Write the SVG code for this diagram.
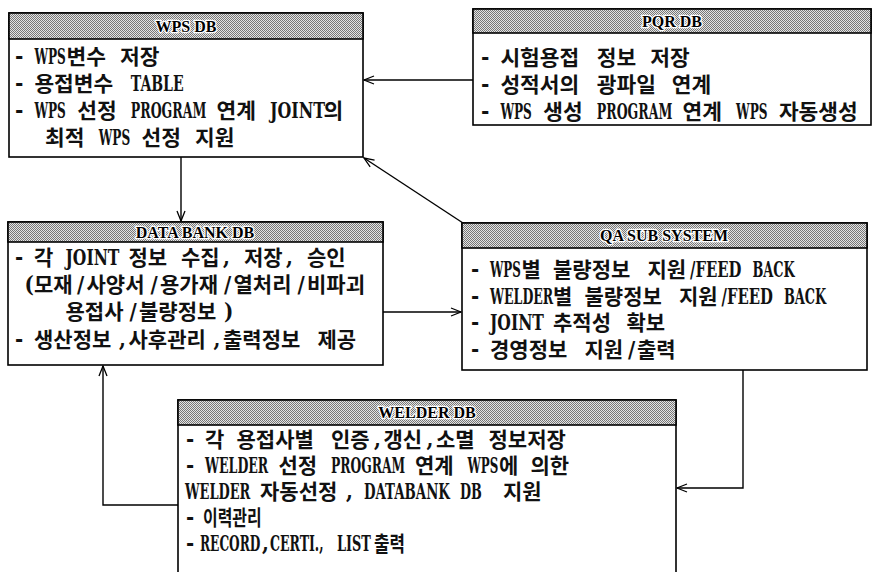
<svg xmlns="http://www.w3.org/2000/svg" width="877" height="572" viewBox="0 0 877 572">
<defs>
<pattern id="dither" width="2" height="2" patternUnits="userSpaceOnUse">
<rect width="2" height="2" fill="#e4e4e4"/>
<rect x="0" y="0" width="1" height="1" fill="#777"/>
<rect x="1" y="1" width="1" height="1" fill="#777"/>
</pattern>
<marker id="arr" markerWidth="12" markerHeight="10" refX="11" refY="5" orient="auto" markerUnits="userSpaceOnUse">
<path d="M1,1 L11,5 L1,9" fill="none" stroke="#000" stroke-width="1.3"/>
</marker>
</defs>
<style>
.box{fill:#fff;stroke:#000;stroke-width:1.6}
.hdr{fill:url(#dither);stroke:#000;stroke-width:1.6}
.ttl{font-family:"Liberation Serif",serif;font-size:16px;font-weight:bold;fill:#000;stroke:#fff;stroke-width:2.5px;paint-order:stroke;text-anchor:middle}
.k{font-family:"Liberation Serif","Noto Sans CJK KR",sans-serif;font-size:21px;font-weight:bold;fill:#111}
.l{font-family:"DejaVu Serif Condensed","Liberation Serif",serif;font-size:22px;font-weight:bold;fill:#111}
.c{fill:none;stroke:#000;stroke-width:1.4}
</style>

<g id="connectors">
<line class="c" x1="473" y1="80" x2="364" y2="80" marker-end="url(#arr)"/>
<line class="c" x1="181" y1="157" x2="181" y2="221" marker-end="url(#arr)"/>
<line class="c" x1="383" y1="312" x2="461" y2="312" marker-end="url(#arr)"/>
<line class="c" x1="463" y1="223" x2="364" y2="158" marker-end="url(#arr)"/>
<polyline class="c" points="743,370 743,488 677,488" marker-end="url(#arr)"/>
<polyline class="c" points="178,505 103,505 103,366" marker-end="url(#arr)"/>
</g>

<g id="wps-db">
<rect class="box" x="9" y="13" width="354" height="144"/>
<rect class="hdr" x="9" y="13" width="354" height="26"/>
<text class="ttl" x="186" y="31.5">WPS DB</text>
<g transform="matrix(1.02,0,0,1,-0.26,0)">
<text class="l" x="15" y="64">-</text>
<text class="l" transform="translate(34,64) scale(0.6,1)">WPS</text>
<text class="k" x="65.5" y="64">변수</text>
<text class="k" x="118" y="64">저장</text>
<text class="l" x="15" y="91">-</text>
<text class="k" x="34" y="91">용접변수</text>
<text class="l" transform="translate(128.5,91) scale(0.695,1)">TABLE</text>
<text class="l" x="15" y="118">-</text>
<text class="l" transform="translate(34,118) scale(0.6,1)">WPS</text>
<text class="k" x="76" y="118">선정</text>
<text class="l" transform="translate(128.5,118) scale(0.622,1)">PROGRAM</text>
<text class="k" x="212.5" y="118">연계</text>
<text class="l" transform="translate(265,118) scale(0.786,1)">JOINT</text>
<text class="k" x="317.5" y="118">의</text>
<text class="k" x="44.5" y="145">최적</text>
<text class="l" transform="translate(97,145) scale(0.6,1)">WPS</text>
<text class="k" x="139" y="145">선정</text>
<text class="k" x="191.5" y="145">지원</text>
</g>
</g>

<g id="pqr-db">
<rect class="box" x="473" y="9" width="398" height="116"/>
<rect class="hdr" x="473" y="9" width="398" height="24"/>
<text class="ttl" x="672" y="27">PQR DB</text>
<g transform="matrix(1.02,0,0,1,-9.58,0)">
<text class="l" x="481" y="65">-</text>
<text class="k" x="500" y="65">시험용접</text>
<text class="k" x="594.5" y="65">정보</text>
<text class="k" x="647" y="65">저장</text>
<text class="l" x="481" y="92">-</text>
<text class="k" x="500" y="92">성적서의</text>
<text class="k" x="594.5" y="92">광파일</text>
<text class="k" x="668" y="92">연계</text>
<text class="l" x="481" y="119">-</text>
<text class="l" transform="translate(500,119) scale(0.6,1)">WPS</text>
<text class="k" x="542" y="119">생성</text>
<text class="l" transform="translate(594.5,119) scale(0.622,1)">PROGRAM</text>
<text class="k" x="678.5" y="119">연계</text>
<text class="l" transform="translate(731,119) scale(0.6,1)">WPS</text>
<text class="k" x="773" y="119">자동생성</text>
</g>
</g>

<g id="data-bank-db">
<rect class="box" x="8" y="222" width="375" height="143"/>
<rect class="hdr" x="8" y="222" width="375" height="20"/>
<text class="ttl" x="195" y="238">DATA BANK DB</text>
<text class="l" x="15" y="265">-</text>
<text class="k" x="34" y="265">각</text>
<text class="l" transform="translate(65.5,265) scale(0.786,1)">JOINT</text>
<text class="k" x="128.5" y="265">정보</text>
<text class="k" x="181" y="265">수집</text>
<text class="l" x="223" y="265">,</text>
<text class="k" x="244" y="265">저장</text>
<text class="l" x="286" y="265">,</text>
<text class="k" x="307" y="265">승인</text>
<text class="l" x="24.5" y="292">(</text>
<text class="k" x="34" y="292">모재</text>
<text class="l" x="77" y="292">/</text>
<text class="k" x="86.5" y="292">사양서</text>
<text class="l" x="150.5" y="292">/</text>
<text class="k" x="160" y="292">용가재</text>
<text class="l" x="224" y="292">/</text>
<text class="k" x="233.5" y="292">열처리</text>
<text class="l" x="297.5" y="292">/</text>
<text class="k" x="307" y="292">비파괴</text>
<text class="k" x="65.5" y="319">용접사</text>
<text class="l" x="129.5" y="319">/</text>
<text class="k" x="139" y="319">불량정보</text>
<text class="l" x="224" y="319">)</text>
<text class="l" x="15" y="347">-</text>
<text class="k" x="34" y="347">생산정보</text>
<text class="l" x="119" y="347">,</text>
<text class="k" x="128.5" y="347">사후관리</text>
<text class="l" x="213.5" y="347">,</text>
<text class="k" x="223" y="347">출력정보</text>
<text class="k" x="317.5" y="347">제공</text>
</g>

<g id="qa-sub-system">
<rect class="box" x="462" y="223" width="405" height="147"/>
<rect class="hdr" x="462" y="223" width="405" height="25"/>
<text class="ttl" x="664" y="241">QA SUB SYSTEM</text>
<text class="l" x="471" y="277">-</text>
<text class="l" transform="translate(490,277) scale(0.6,1)">WPS</text>
<text class="k" x="521.5" y="277">별</text>
<text class="k" x="553" y="277">불량정보</text>
<text class="k" x="647.5" y="277">지원</text>
<text class="l" transform="translate(690,277) scale(0.75,1)">/FEED</text>
<text class="l" transform="translate(752.5,277) scale(0.65,1)">BACK</text>
<text class="l" x="471" y="304">-</text>
<text class="l" transform="translate(490,304) scale(0.633,1)">WELDER</text>
<text class="k" x="553" y="304">별</text>
<text class="k" x="584.5" y="304">불량정보</text>
<text class="k" x="679" y="304">지원</text>
<text class="l" transform="translate(721.5,304) scale(0.75,1)">/FEED</text>
<text class="l" transform="translate(784,304) scale(0.65,1)">BACK</text>
<text class="l" x="471" y="330">-</text>
<text class="l" transform="translate(490,330) scale(0.786,1)">JOINT</text>
<text class="k" x="553" y="330">추적성</text>
<text class="k" x="626.5" y="330">확보</text>
<text class="l" x="471" y="357">-</text>
<text class="k" x="490" y="357">경영정보</text>
<text class="k" x="584.5" y="357">지원</text>
<text class="l" x="628" y="357">/</text>
<text class="k" x="637" y="357">출력</text>
</g>

<g id="welder-db">
<rect class="box" x="178" y="400" width="498" height="190"/>
<rect class="hdr" x="178" y="400" width="498" height="25"/>
<text class="ttl" x="427" y="418">WELDER DB</text>
<text class="l" x="186" y="447">-</text>
<text class="k" x="205" y="447">각</text>
<text class="k" x="236.5" y="447">용접사별</text>
<text class="k" x="331" y="447">인증</text>
<text class="l" x="374" y="447">,</text>
<text class="k" x="383.5" y="447">갱신</text>
<text class="l" x="426.5" y="447">,</text>
<text class="k" x="436" y="447">소멸</text>
<text class="k" x="488.5" y="447">정보저장</text>
<text class="l" x="186" y="473">-</text>
<text class="l" transform="translate(205,473) scale(0.633,1)">WELDER</text>
<text class="k" x="278.5" y="473">선정</text>
<text class="l" transform="translate(331,473) scale(0.622,1)">PROGRAM</text>
<text class="k" x="415" y="473">연계</text>
<text class="l" transform="translate(467.5,473) scale(0.6,1)">WPS</text>
<text class="k" x="499" y="473">에</text>
<text class="k" x="530.5" y="473">의한</text>
<text class="l" transform="translate(185,499) scale(0.654,1)">WELDER</text>
<text class="k" x="260" y="499">자동선정</text>
<text class="l" x="346" y="499">,</text>
<text class="l" transform="translate(364,499) scale(0.674,1)">DATABANK</text>
<text class="l" transform="translate(460,499) scale(0.645,1)">DB</text>
<text class="k" x="503" y="499">지원</text>
<text class="l" x="186" y="525">-</text>
<text class="k" transform="translate(203,525) scale(0.76,1)">이력관리</text>
<text class="l" x="186" y="551">-</text>
<text class="l" transform="translate(200,551) scale(0.615,1)">RECORD</text>
<text class="l" x="262" y="551">,</text>
<text class="l" transform="translate(270,551) scale(0.633,1)">CERTI.,</text>
<text class="l" transform="translate(337,551) scale(0.65,1)">LIST</text>
<text class="k" transform="translate(374,551) scale(0.8,1)">출력</text>
</g>
</svg>
